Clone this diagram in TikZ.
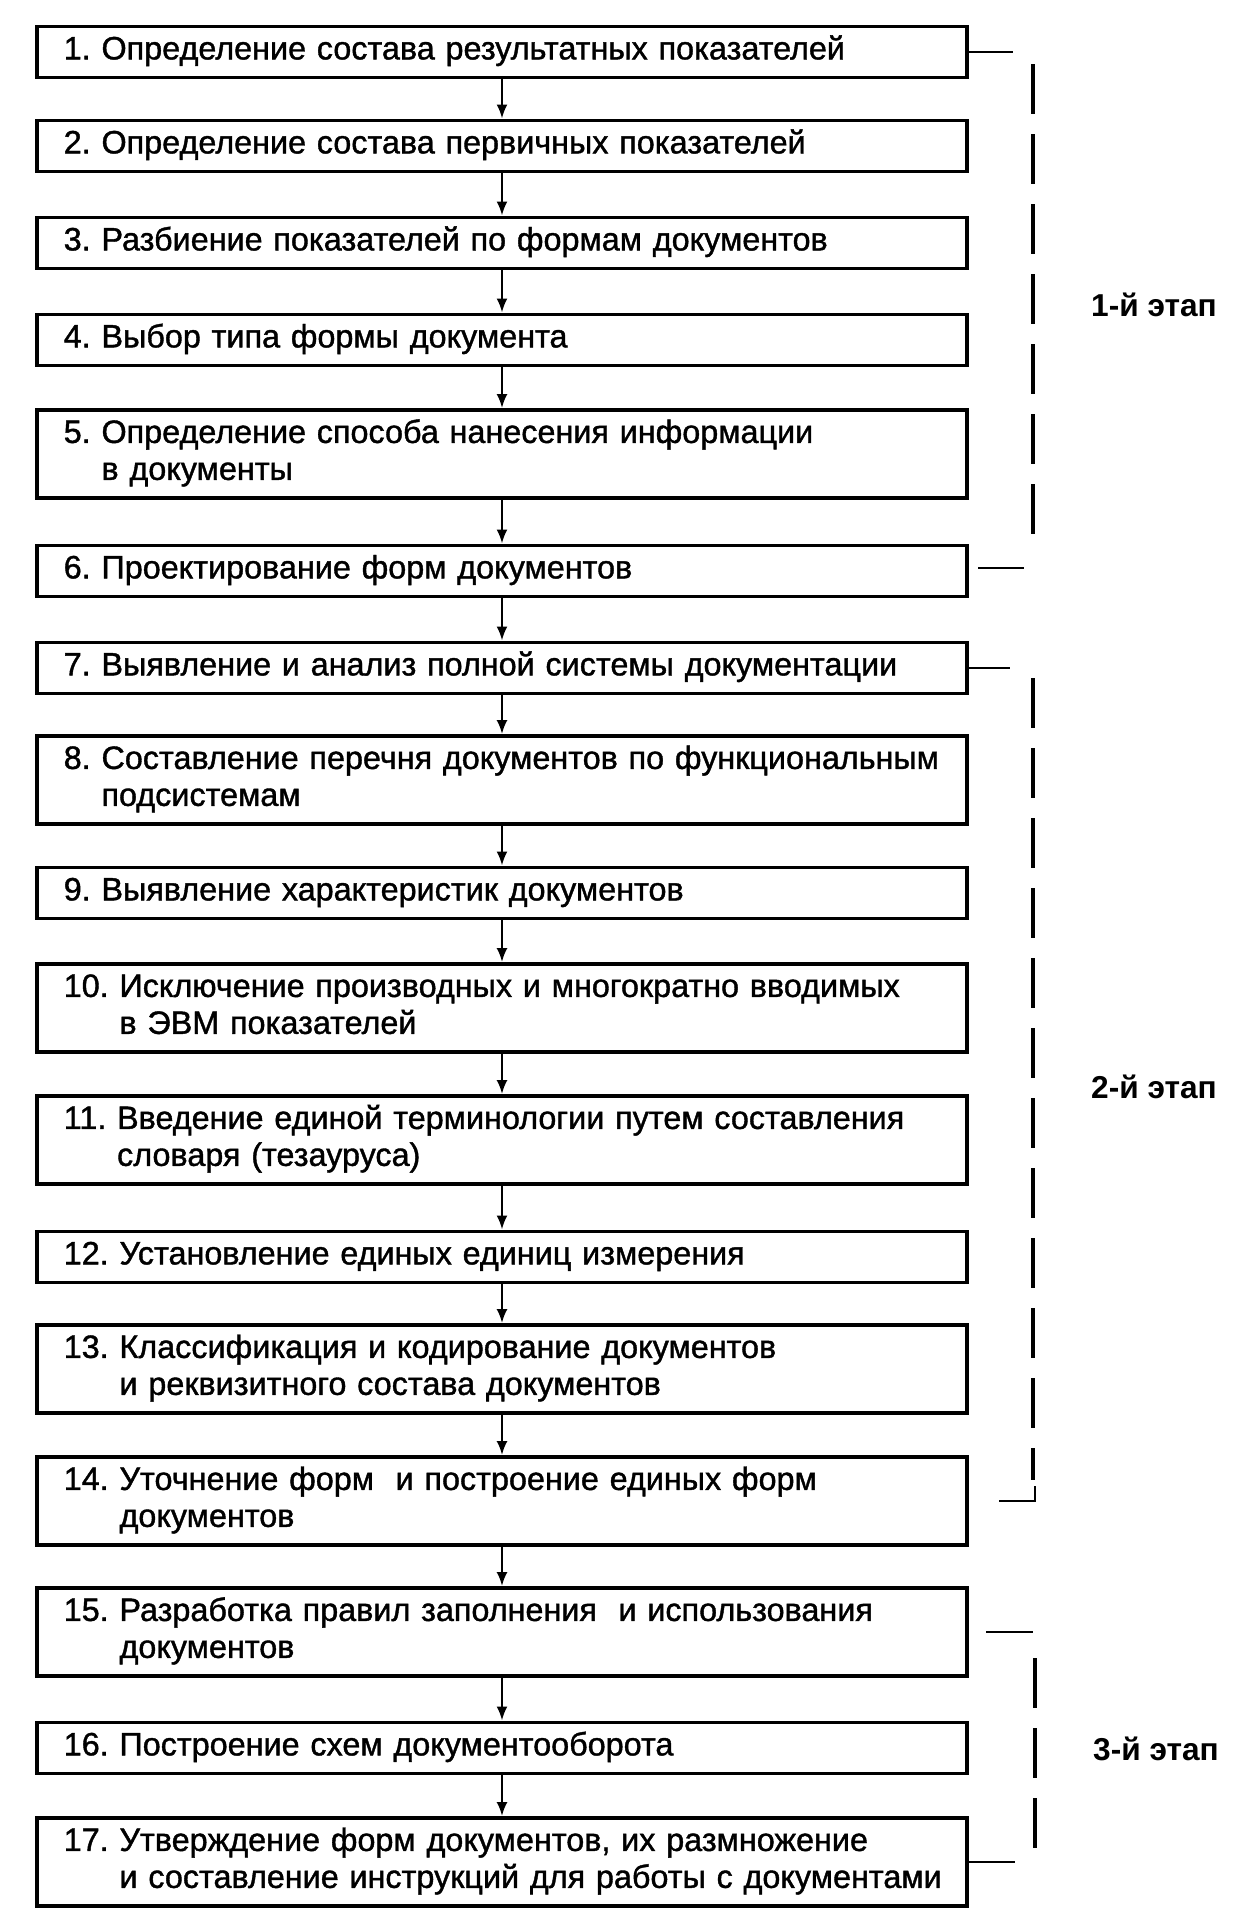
\documentclass[tikz,border=0pt]{standalone}
\usepackage{fontspec}
\setmainfont{Liberation Sans}
\newfontfamily\scanfont{Liberation Sans}[FakeBold=1.2]
\usetikzlibrary{arrows.meta}
\tikzset{stepbox/.style={draw, line width=1.1pt, text width=8.76cm, inner xsep=0.27cm, inner ysep=2pt,
                         minimum height=0.5cm, align=left, font=\scanfont\fontsize{9.2}{10.5}\selectfont},
         twoline/.style={stepbox, minimum height=0.87cm},
         flow/.style={line width=0.7pt, -{Latex[length=1.4mm,width=1.1mm]}},
         tick/.style={line width=0.8pt},
         stagebar/.style={line width=1.3pt, dash pattern=on 0.5cm off 0.2cm},
         stagelabel/.style={font=\fontsize{9}{11}\selectfont\bfseries}}
\newcommand{\hangstep}[2]{#1~\begin{tabular}[t]{@{}l@{}}#2\end{tabular}}

\begin{document}
\begin{tikzpicture}[x=0.01cm, y=-0.01cm]
  \useasboundingbox (0,0) rectangle (1232,1932);
  % steps
  \node[stepbox] (s1)  at (502,52)   {\hangstep{1.}{Определение состава результатных показателей}};
  \node[stepbox] (s2)  at (502,146)  {\hangstep{2.}{Определение состава первичных показателей}};
  \node[stepbox] (s3)  at (502,243)  {\hangstep{3.}{Разбиение показателей по формам документов}};
  \node[stepbox] (s4)  at (502,340)  {\hangstep{4.}{Выбор типа формы документа}};
  \node[twoline] (s5)  at (502,454)  {\hangstep{5.}{Определение способа нанесения информации\\в документы}};
  \node[stepbox] (s6)  at (502,571)  {\hangstep{6.}{Проектирование форм документов}};
  \node[stepbox] (s7)  at (502,668)  {\hangstep{7.}{Выявление и анализ полной системы документации}};
  \node[twoline] (s8)  at (502,780)  {\hangstep{8.}{Составление перечня документов по функциональным\\подсистемам}};
  \node[stepbox] (s9)  at (502,893)  {\hangstep{9.}{Выявление характеристик документов}};
  \node[twoline] (s10) at (502,1008) {\hangstep{10.}{Исключение производных и многократно вводимых\\в ЭВМ показателей}};
  \node[twoline] (s11) at (502,1140) {\hangstep{11.}{Введение единой терминологии путем составления\\словаря (тезауруса)}};
  \node[stepbox] (s12) at (502,1257) {\hangstep{12.}{Установление единых единиц измерения}};
  \node[twoline] (s13) at (502,1369) {\hangstep{13.}{Классификация и кодирование документов\\и реквизитного состава документов}};
  \node[twoline] (s14) at (502,1501) {\hangstep{14.}{Уточнение форм\ \ и построение единых форм\\документов}};
  \node[twoline] (s15) at (502,1632) {\hangstep{15.}{Разработка правил заполнения\ \ и использования\\документов}};
  \node[stepbox] (s16) at (502,1748) {\hangstep{16.}{Построение схем документооборота}};
  \node[twoline] (s17) at (502,1862) {\hangstep{17.}{Утверждение форм документов, их размножение\\и составление инструкций для работы с документами}};
  \foreach \a/\b in {1/2,2/3,3/4,4/5,5/6,6/7,7/8,8/9,9/10,10/11,11/12,12/13,13/14,14/15,15/16,16/17}
    \draw[flow] (s\a) -- (s\b);
  % stage 1
  \coordinate (a1) at (1013,52);
  \draw[tick] (s1.east) -- (a1);
  \draw[stagebar] (1033,64) -- (1033,546);
  \draw[tick] (978,568) -- (1024,568);
  \node[stagelabel] (e1) at (1154,305) {1-й этап};
  % stage 2
  \coordinate (a2) at (1010,668);
  \draw[tick] (s7.east) -- (a2);
  \draw[stagebar] (1033,678) -- (1033,1480);
  \draw[tick] (999,1501) -- (1035,1501) -- (1035,1486);
  \node[stagelabel] (e2) at (1154,1087) {2-й этап};
  % stage 3
  \draw[tick] (986,1632) -- (1033,1632);
  \draw[stagebar] (1035,1658) -- (1035,1852);
  \coordinate (a3) at (1015,1862);
  \draw[tick] (s17.east) -- (a3);
  \node[stagelabel] (e3) at (1156,1749) {3-й этап};
\end{tikzpicture}
\end{document}
